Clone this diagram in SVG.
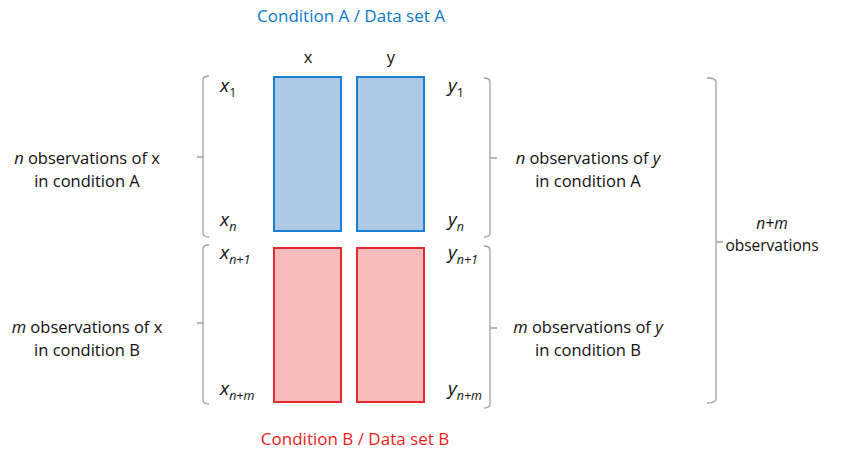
<svg xmlns="http://www.w3.org/2000/svg" width="843" height="455" viewBox="0 0 843 455">
<style>
text{font-family:"Open Sans","Liberation Sans",sans-serif;fill:#111}
.lbl{font-size:16.5px;text-anchor:middle}
.v{font-size:19px;font-style:italic}
.s{font-size:12.5px}
.br{fill:none;stroke:#a0a0a0;stroke-width:1.3;stroke-linejoin:round}
.blue{fill:#adc9e6;stroke:#1a7fd0;stroke-width:2}
.red{fill:#f9bcbd;stroke:#e32a2e;stroke-width:2}
</style>
<rect width="843" height="455" fill="#fff"/>
<g id="titleA"><text x="351" y="22" class="lbl" style="fill:#0a78cc;font-size:17px">Condition A / Data set A</text></g>
<g id="titleB"><text x="355" y="445" class="lbl" style="fill:#ee1c1c;font-size:17px">Condition B / Data set B</text></g>
<g id="colx"><text x="308" y="63" class="lbl">x</text></g>
<g id="coly"><text x="391" y="63" class="lbl">y</text></g>
<g id="xA"><rect x="274" y="77" width="67" height="154" class="blue"/></g>
<g id="yA"><rect x="357" y="77" width="67" height="154" class="blue"/></g>
<g id="xB"><rect x="274" y="248" width="67" height="154" class="red"/></g>
<g id="yB"><rect x="357" y="248" width="67" height="154" class="red"/></g>
<g id="xlabels">
<text x="220" y="92" class="v">x<tspan class="s" dy="5" font-style="normal">1</tspan></text>
<text x="220" y="226" class="v">x<tspan class="s" dy="5">n</tspan></text>
<text x="220" y="259" class="v">x<tspan class="s" dy="5">n+1</tspan></text>
<text x="220" y="395" class="v">x<tspan class="s" dy="5">n+m</tspan></text>
</g>
<g id="ylabels">
<text x="448" y="92" class="v">y<tspan class="s" dy="5" font-style="normal">1</tspan></text>
<text x="448" y="226" class="v">y<tspan class="s" dy="5">n</tspan></text>
<text x="448" y="259" class="v">y<tspan class="s" dy="5">n+1</tspan></text>
<text x="448" y="395" class="v">y<tspan class="s" dy="5">n+m</tspan></text>
</g>
<g id="connectors">
<path class="br" d="M209,76 Q203,76 203,80 V233 Q203,237 209,237 M203,157 H197"/>
<path class="br" d="M209,245 Q203,245 203,249 V400 Q203,404 209,404 M203,323 H197"/>
<path class="br" d="M484,78 Q490,78 490,82 V233 Q490,237 484,237 M490,158 H497"/>
<path class="br" d="M484,246 Q490,246 490,250 V404 Q490,408 484,408 M490,328 H497"/>
<path class="br" d="M707,78 Q716,78 716,82 V399 Q716,403 707,403 M716,242 H723"/>
</g>
<g id="leftA"><text class="lbl" x="87" y="164"><tspan font-style="italic">n</tspan> observations of x</text><text class="lbl" x="87" y="187">in condition A</text></g>
<g id="leftB"><text class="lbl" x="87" y="333"><tspan font-style="italic">m</tspan> observations of x</text><text class="lbl" x="87" y="356">in condition B</text></g>
<g id="rightA"><text class="lbl" x="588" y="164"><tspan font-style="italic">n</tspan> observations of <tspan font-style="italic">y</tspan></text><text class="lbl" x="588" y="187">in condition A</text></g>
<g id="rightB"><text class="lbl" x="588" y="333"><tspan font-style="italic">m</tspan> observations of <tspan font-style="italic">y</tspan></text><text class="lbl" x="588" y="356">in condition B</text></g>
<g id="total"><text class="lbl" x="772" y="229" font-style="italic" style="font-size:15.5px">n+m</text><text class="lbl" x="772" y="251" style="font-size:15.5px">observations</text></g>
</svg>
